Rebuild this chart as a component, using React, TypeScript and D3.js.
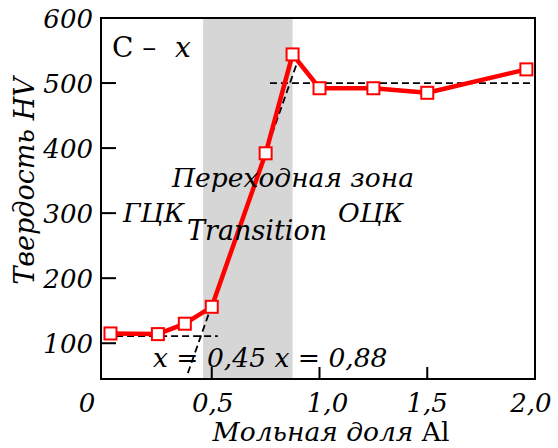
import React from 'react';
import * as d3 from 'd3';

// Hardness vs Al mole fraction
const molFraction = [0.03, 0.25, 0.375, 0.5, 0.75, 0.875, 1.0, 1.25, 1.5, 1.96];
const hardness = [115, 114, 130, 156, 392, 544, 492, 492, 485, 521];

// dashed guide lines
const fccLine: [number, number][] = [[0.005, 111], [0.528, 111]];
const slopeLine: [number, number][] = [[0.389, 54], [0.9, 535]];
const bccLine: [number, number][] = [[0.77, 500], [1.98, 500]];

const transitionZone = [0.46, 0.875];

const yTicks = [100, 200, 300, 400, 500, 600];
const xTicks = [0, 0.5, 1.0, 1.5, 2.0];
const xTickLabels = ['0', '0,5', '1,0', '1,5', '2,0'];
const xLabelShift = [-17, 1, 8, 0, -4];

const W = 558;
const H = 448;
// only serif face available in the sandbox
const FONT = "'DejaVu Serif', serif";

const App: React.FC = () => {
  const x = d3.scaleLinear().domain([-0.014, 2]).range([101, 535]);
  const y = d3.scaleLinear().domain([45, 600]).range([379, 18]);

  const line = d3.line<[number, number]>()
    .x(d => x(d[0]))
    .y(d => y(d[1]));

  const pts: [number, number][] = molFraction.map((m, i) => [m, hardness[i]]);
  const [x0, x1] = x.range();
  const [yb, yt] = y.range();
  const ms = 12;

  return (
    <svg width={W} height={H} style={{ position: 'absolute', left: 0, top: 0 }}>
      <rect width={W} height={H} fill="#fff" />
      {/* transition zone band */}
      <rect x={x(transitionZone[0])} y={yt} width={x(transitionZone[1]) - x(transitionZone[0])} height={yb - yt} fill="#d6d6d6" />

      {/* dashed fits */}
      {[fccLine, slopeLine, bccLine].map((l, i) => (
        <path key={i} d={line(l)!} fill="none" stroke="#000" strokeWidth={1.8} strokeDasharray="7,4" />
      ))}

      {/* data line */}
      <path d={line(pts)!} fill="none" stroke="#ff0000" strokeWidth={4.5} strokeLinejoin="round" />
      {pts.map((p, i) => (
        <rect key={i} x={x(p[0]) - ms / 2} y={y(p[1]) - ms / 2} width={ms} height={ms}
          fill="#fff" stroke="#ff0000" strokeWidth={2} />
      ))}

      {/* frame */}
      <rect x={x0} y={yt} width={x1 - x0} height={yb - yt} fill="none" stroke="#000" strokeWidth={2} />

      <g style={{ fontFamily: FONT }}>
        {/* y ticks */}
        {yTicks.map(t => (
          <g key={t}>
            {t < 600 && <line x1={x0} x2={x0 + 15} y1={y(t)} y2={y(t)} stroke="#000" strokeWidth={2} />}
            <text x={93} y={y(t) + 10} textAnchor="end" fontSize={26} fontStyle="italic">{t}</text>
          </g>
        ))}

        {/* x ticks */}
        {xTicks.map((t, i) => (
          <g key={t}>
            {t > 0 && t < 2 && <line x1={x(t)} x2={x(t)} y1={yb} y2={yb - 12} stroke="#000" strokeWidth={2} />}
            <text x={x(t) + xLabelShift[i]} y={412} textAnchor="middle" fontSize={26} fontStyle="italic">{xTickLabels[i]}</text>
          </g>
        ))}

        {/* annotations */}
        <text x={112} y={57} fontSize={28}>
          <tspan>С –</tspan>
          <tspan x={175} fontStyle="italic">x</tspan>
        </text>
        <text x={172} y={187} fontSize={26.5} fontStyle="italic">Переходная зона</text>
        <text x={123} y={222} fontSize={26.5} fontStyle="italic">ГЦК</text>
        <text x={338} y={222} fontSize={26.5} fontStyle="italic">ОЦК</text>
        <text x={187} y={240} fontSize={27} fontStyle="italic">Transition</text>
        <text x={153} y={367} fontSize={26.5} fontStyle="italic">x = 0,45 x = 0,88</text>

        {/* axis titles */}
        <text x={331} y={441} textAnchor="middle" fontSize={26.5}>
          <tspan fontStyle="italic">Мольная доля </tspan>
          <tspan>Al</tspan>
        </text>
        <text transform="translate(34,181) rotate(-90)" textAnchor="middle" fontSize={27} fontStyle="italic">Твердость HV</text>
      </g>
    </svg>
  );
};

export default App;
